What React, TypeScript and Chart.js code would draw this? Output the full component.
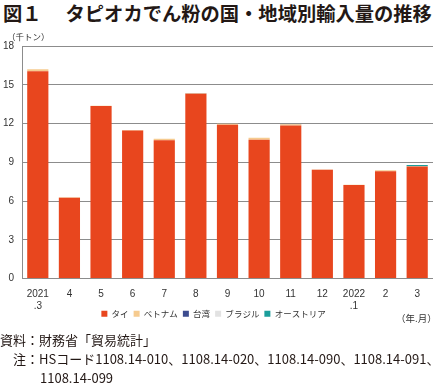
import React, { useEffect, useRef } from "react";
import { Chart, registerables } from "chart.js";

Chart.register(...registerables);

const categories: (string | string[])[] = [
  ["2021", ".3"], "4", "5", "6", "7", "8", "9", "10", "11", "12", ["2022", ".1"], "2", "3",
];
const seriesNames = ["タイ", "ベトナム", "台湾", "ブラジル", "オーストリア"];
const thai = [16.05, 6.25, 13.35, 11.45, 10.7, 14.3, 11.9, 10.75, 11.85, 8.42, 7.24, 8.3, 8.68];
const vietnam = [0.15, 0.05, 0.03, 0.05, 0.12, 0.05, 0.08, 0.15, 0.1, 0.02, 0.02, 0.08, 0.02];
const taiwan = [0, 0, 0, 0, 0, 0.01, 0, 0, 0.01, 0, 0, 0, 0];
const brazil = [0, 0, 0, 0, 0, 0, 0, 0, 0, 0, 0, 0, 0];
const austria = [0, 0, 0, 0, 0, 0, 0, 0, 0, 0, 0, 0, 0.08];
const yTicks = [0, 3, 6, 9, 12, 15, 18];

const colors = ["#E8461E", "#F6CB8F", "#3D4C8F", "#E2E2E2", "#1B9E9B"];
const JP = '"Noto Sans CJK JP", "Noto Sans", sans-serif';
const NUM = '"Liberation Sans", Arial, sans-serif';

const LEGEND_SHIFT = 10;

const legendShift = {
  id: "legendShift",
  afterLayout(chart: any) {
    const lg = chart.legend;
    if (lg) {
      lg.top -= LEGEND_SHIFT;
      lg.bottom -= LEGEND_SHIFT;
      lg.left -= 3;
      lg.right -= 3;
    }
  },
};

export default function App() {
  const ref = useRef<HTMLCanvasElement>(null);
  useEffect(() => {
    if (!ref.current) return;
    const values = [thai, vietnam, taiwan, brazil, austria];
    const chart = new Chart(ref.current, {
      type: "bar",
      data: {
        labels: categories,
        datasets: seriesNames.map((name, i) => ({
          label: name,
          data: values[i],
          backgroundColor: colors[i],
          borderWidth: 0,
          categoryPercentage: 1,
          barPercentage: 0.67,
        })),
      },
      plugins: [legendShift],
      options: {
        animation: false,
        responsive: false,
        maintainAspectRatio: false,
        layout: { padding: { top: 18, right: 4, left: 0, bottom: 0 } },
        plugins: {
          tooltip: { enabled: false },
          legend: {
            position: "bottom",
            labels: {
              boxWidth: 6,
              boxHeight: 6,
              padding: 5,
              color: "#333",
              font: { size: 8.5, family: JP },
            },
          },
        },
        scales: {
          x: {
            stacked: true,
            grid: { display: false },
            border: { display: false },
            ticks: {
              autoSkip: false,
              maxRotation: 0,
              padding: 2,
              color: "#333",
              font: { size: 10, family: NUM, lineHeight: 1.2 },
            },
          },
          y: {
            stacked: true,
            min: 0,
            max: 18,
            afterBuildTicks: (axis: any) => {
              axis.ticks = yTicks.map((v) => ({ value: v }));
            },
            afterFit: (axis: any) => {
              axis.width = 22;
            },
            grid: { color: "#8C8C8C", lineWidth: 1, drawTicks: false },
            border: { color: "#8C8C8C", width: 1 },
            ticks: {
              padding: 8,
              color: "#333",
              font: { size: 10, family: NUM },
            },
          },
        },
      },
    });
    return () => chart.destroy();
  }, []);

  return (
    <div
      style={{
        position: "absolute",
        left: 0,
        top: 0,
        width: 437,
        height: 385,
        background: "#fff",
        fontFamily: JP,
        color: "#222",
        overflow: "hidden",
      }}
    >
      <div
        style={{
          position: "absolute",
          left: 3,
          top: 0,
          fontSize: 19.3,
          fontWeight: 700,
          lineHeight: "26px",
          whiteSpace: "nowrap",
          color: "#231815",
        }}
      >
        <span>図１</span>
        <span style={{ marginLeft: 24 }}>タピオカでん粉の国・地域別輸入量の推移</span>
      </div>
      <canvas ref={ref} width={437} height={310} style={{ position: "absolute", left: 0, top: 28, width: 437, height: 310 }} />
      <div style={{ position: "absolute", left: 7, top: 30, fontSize: 8.5, lineHeight: "12px", whiteSpace: "nowrap", color: "#333" }}>
        （千トン）
      </div>
      <div style={{ position: "absolute", left: 396, top: 312, fontSize: 9.5, lineHeight: "12px", whiteSpace: "nowrap", color: "#333" }}>
        （年.月）
      </div>
      <div style={{ position: "absolute", left: 0, top: 330, fontSize: 13, lineHeight: "19px", whiteSpace: "nowrap", color: "#231815" }}>
        <div>資料：財務省「貿易統計」</div>
        <div style={{ paddingLeft: 13 }}>注：HSコード1108.14-010、1108.14-020、1108.14-090、1108.14-091、</div>
        <div style={{ paddingLeft: 40 }}>1108.14-099</div>
      </div>
    </div>
  );
}
